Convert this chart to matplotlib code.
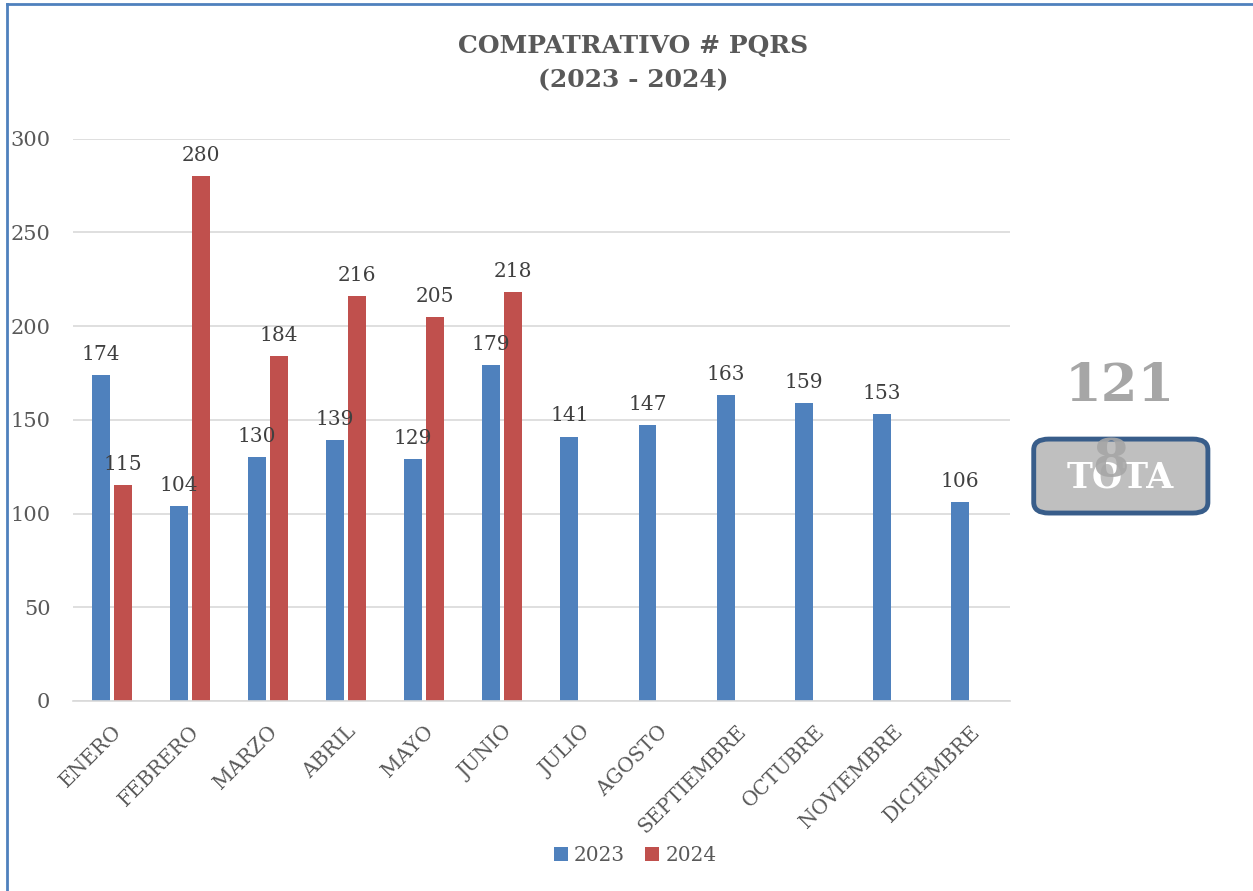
import numpy as np
import matplotlib.pyplot as plt
from matplotlib.patches import FancyBboxPatch
from matplotlib.lines import Line2D

months = ['ENERO', 'FEBRERO', 'MARZO', 'ABRIL', 'MAYO', 'JUNIO', 'JULIO',
          'AGOSTO', 'SEPTIEMBRE', 'OCTUBRE', 'NOVIEMBRE', 'DICIEMBRE']
pqrs_2023 = [174, 104, 130, 139, 129, 179, 141, 147, 163, 159, 153, 106]
pqrs_2024 = [115, 280, 184, 216, 205, 218]

plt.rcParams['font.family'] = ['DejaVu Serif']

fig = plt.figure(figsize=(12.53, 8.91), dpi=100)
ax = fig.add_axes([0.058, 0.2133, 0.748, 0.631])

x = np.arange(len(months))
bar_width = 0.23
off = 0.14

b1 = ax.bar(x - off, pqrs_2023, width=bar_width, color='#4F81BD', label='2023')
x2 = np.arange(len(pqrs_2024))
b2 = ax.bar(x2 + off, pqrs_2024, width=bar_width, color='#C0504D', label='2024')

for bars in (b1, b2):
    for bar in bars:
        yval = bar.get_height()
        ax.text(bar.get_x() + bar.get_width() / 2, yval + 6, str(int(yval)),
                ha='center', va='bottom', fontsize=14.5, color='#404040')

ax.set_xlim(-0.5, len(months) - 0.5)
ax.set_ylim(0, 300)
ax.set_yticks(np.arange(0, 301, 50))
ax.yaxis.grid(True, color='#D9D9D9', linewidth=1.2)
ax.set_axisbelow(True)
for s in ['top', 'right', 'left']:
    ax.spines[s].set_visible(False)
ax.spines['bottom'].set_color('#D9D9D9')
ax.spines['bottom'].set_linewidth(1.2)
ax.tick_params(axis='both', length=0, colors='#595959')
ax.tick_params(axis='y', pad=16, labelsize=15)
ax.tick_params(axis='x', pad=15)
ax.set_xticks(x)
ax.set_xticklabels(months, rotation=45, ha='right', rotation_mode='anchor', fontsize=14.5)

fig.text(0.505, 0.962, 'COMPATRATIVO # PQRS\n(2023 - 2024)', ha='center', va='top',
         fontsize=18, fontweight='bold', color='#595959', linespacing=1.55)

fig.legend(handles=[b1, b2], labels=['2023', '2024'], loc='center',
           bbox_to_anchor=(0.507, 0.04), ncol=2, frameon=False, fontsize=14.5,
           handlelength=0.7, handleheight=0.7, handletextpad=0.3, columnspacing=1.0,
           labelcolor='#595959')

# total callout
box = FancyBboxPatch((0.825, 0.4242), 0.139, 0.083, boxstyle='round,pad=0,rounding_size=0.012',
                     transform=fig.transFigure, facecolor='#BFBFBF', edgecolor='#385D8A',
                     linewidth=3.5)
fig.patches.append(box)
fig.text(0.894, 0.464, 'TOTA', ha='center', va='center', fontsize=25, fontweight='bold',
         color='white')
fig.text(0.894, 0.566, '121', ha='center', va='center', fontsize=38, fontweight='bold',
         color='#A6A6A6')
fig.text(0.886, 0.482, '8', ha='center', va='center', fontsize=38, fontweight='bold',
         color='#A6A6A6', alpha=0.9)

# frame lines
fig.add_artist(Line2D([0.0056, 0.0056], [0, 0.996], transform=fig.transFigure,
                      color='#4F81BD', linewidth=2))
fig.add_artist(Line2D([0.0056, 1], [0.996, 0.996], transform=fig.transFigure,
                      color='#4F81BD', linewidth=2))

fig.savefig('out.png', dpi=100)
